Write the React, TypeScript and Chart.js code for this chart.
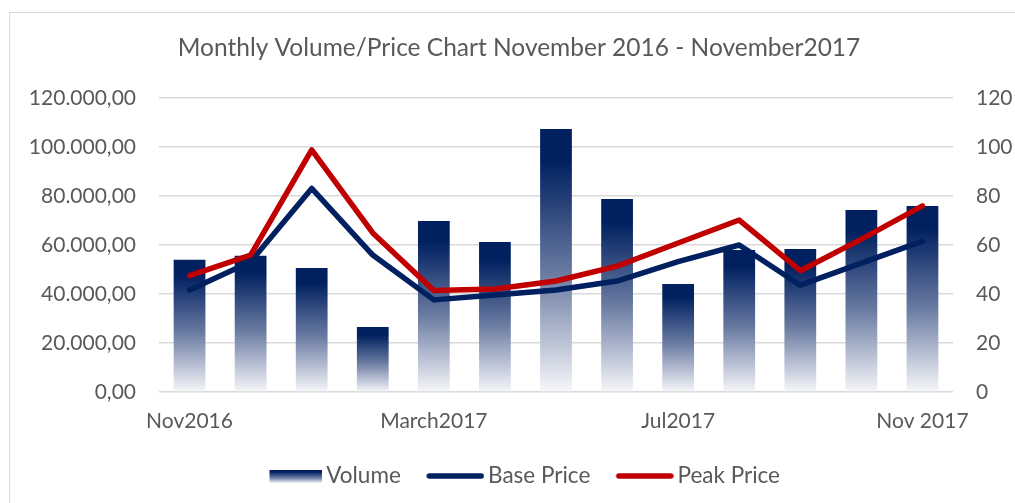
import React, { useEffect, useRef } from 'react';
import { Chart, registerables } from 'chart.js';

Chart.register(...registerables);

const categories = ['Nov2016', 'Dec2016', 'Jan2017', 'Feb2017', 'March2017', 'Apr2017', 'May2017', 'Jun2017', 'Jul2017', 'Aug2017', 'Sep2017', 'Oct2017', 'Nov 2017'];
const volume = [54000, 55600, 50600, 26500, 69800, 61200, 107300, 78800, 44100, 58000, 58400, 74300, 75900];
const basePrice = [41.6, 53.2, 83.1, 55.9, 37.6, 39.6, 41.6, 45.3, 53.2, 60.0, 43.6, 52.6, 61.6];
const peakPrice = [47.5, 55.9, 98.8, 64.9, 41.4, 42.0, 45.3, 51.4, 60.8, 70.2, 49.5, 62.4, 76.0];
const titleText = 'Monthly Volume/Price Chart November 2016 - November2017';

const FONT = 'Lato';
const TEXT = '#595959';
const NAVY = '#002060';
const RED = '#c00000';
const GRID = '#d9d9d9';

const fmtVolume = (v: number) =>
  Math.round(v).toString().replace(/\B(?=(\d{3})+(?!\d))/g, '.') + ',00';

const PW = 66; // pointStyleWidth

function makeSwatch(kind: 'bar' | 'line', color: string): HTMLCanvasElement {
  const iw = PW + 15;
  const h = 16;
  const c = document.createElement('canvas');
  c.width = iw;
  c.height = h;
  const g = c.getContext('2d')!;
  if (kind === 'bar') {
    const sw = 53;
    const x0 = iw - sw;
    const top = 2, bh = 13;
    const grad = g.createLinearGradient(0, top, 0, top + bh);
    grad.addColorStop(0, NAVY);
    grad.addColorStop(0.15, NAVY);
    grad.addColorStop(0.6, '#6a7ba2');
    grad.addColorStop(1, '#f3f5f9');
    g.fillStyle = grad;
    g.fillRect(x0, top, sw, bh);
  } else {
    const sw = 58;
    const x0 = iw - sw;
    g.strokeStyle = color;
    g.lineWidth = 5.5;
    g.lineCap = 'round';
    g.beginPath();
    g.moveTo(x0 + 3, h / 2);
    g.lineTo(iw - 3, h / 2);
    g.stroke();
  }
  return c;
}

const framePlugin = {
  id: 'frame',
  afterLayout(chart: any) {
    if (chart.titleBlock) {
      chart.titleBlock.left += 11.5;
      chart.titleBlock.right += 11.5;
    }
    if (chart.legend) {
      chart.legend.left += 7;
      chart.legend.right += 7;
    }
  },
  beforeDraw(chart: any) {
    const ctx = chart.ctx;
    ctx.save();
    ctx.fillStyle = '#ffffff';
    ctx.fillRect(0, 0, chart.width, chart.height);
    ctx.strokeStyle = GRID;
    ctx.lineWidth = 1;
    ctx.strokeRect(9.5, 12.5, chart.width + 20, chart.height + 20);
    ctx.restore();
  },
};

export default function App() {
  const ref = useRef<HTMLCanvasElement | null>(null);

  useEffect(() => {
    if (!ref.current) return;
    Chart.defaults.font.family = FONT;
    const swatches = [makeSwatch('bar', NAVY), makeSwatch('line', NAVY), makeSwatch('line', RED)];
    const tickFont = { family: FONT, size: 21 };

    const chart = new Chart(ref.current, {
      type: 'bar',
      data: {
        labels: categories,
        datasets: [
          {
            type: 'bar',
            label: 'Volume',
            data: volume,
            yAxisID: 'y',
            order: 2,
            barPercentage: 0.52,
            categoryPercentage: 1,
            backgroundColor: (ctx: any) => {
              const chart = ctx.chart;
              const ys = chart.scales && chart.scales.y;
              if (!ys || ctx.type !== 'data') return NAVY;
              const top = ys.getPixelForValue(ctx.raw);
              const bot = ys.getPixelForValue(0);
              if (!isFinite(top) || !isFinite(bot) || bot - top < 1) return NAVY;
              const g = chart.ctx.createLinearGradient(0, top, 0, bot);
              g.addColorStop(0, NAVY);
              g.addColorStop(0.12, NAVY);
              g.addColorStop(0.55, '#6a7ba2');
              g.addColorStop(1, '#f6f7fa');
              return g;
            },
          } as any,
          {
            type: 'line',
            label: 'Base Price',
            data: basePrice,
            yAxisID: 'y1',
            order: 1,
            borderColor: NAVY,
            backgroundColor: NAVY,
            borderWidth: 5.5,
            pointRadius: 0,
            tension: 0,
            borderCapStyle: 'round',
            borderJoinStyle: 'round',
          } as any,
          {
            type: 'line',
            label: 'Peak Price',
            data: peakPrice,
            yAxisID: 'y1',
            order: 0,
            borderColor: RED,
            backgroundColor: RED,
            borderWidth: 5.5,
            pointRadius: 0,
            tension: 0,
            borderCapStyle: 'round',
            borderJoinStyle: 'round',
          } as any,
        ],
      },
      options: {
        animation: false,
        responsive: false,
        devicePixelRatio: 1,
        layout: { padding: { left: 0, right: 0, top: 0, bottom: 5.75 } },
        plugins: {
          title: {
            display: true,
            text: titleText,
            color: TEXT,
            font: { family: FONT, size: 24.5, weight: 'normal' },
            padding: { top: 33.6, bottom: 35.0 },
          },
          legend: {
            position: 'bottom',
            labels: {
              usePointStyle: true,
              pointStyleWidth: PW,
              padding: 10,
              color: TEXT,
              font: { family: FONT, size: 22.5 },
              generateLabels: (ch: any) => {
                const items = (Chart.defaults.plugins.legend.labels as any).generateLabels(ch);
                items.sort((a: any, b: any) => a.datasetIndex - b.datasetIndex);
                return items.map((it: any) => ({
                  ...it,
                  pointStyle: swatches[it.datasetIndex],
                  fontColor: TEXT,
                }));
              },
            },
          },
          tooltip: { enabled: false },
        },
        scales: {
          x: {
            grid: { display: false, drawTicks: false },
            border: { display: false },
            ticks: {
              autoSkip: false,
              maxRotation: 0,
              minRotation: 0,
              color: TEXT,
              font: tickFont,
              padding: 17,
              callback: (_v: any, i: number) => (i % 4 === 0 ? categories[i] : ''),
            },
            afterFit: (s: any) => {
              s.height = 62.75;
            },
          },
          y: {
            position: 'left',
            min: 0,
            max: 120000,
            ticks: {
              stepSize: 20000,
              color: TEXT,
              font: tickFont,
              padding: 23,
              callback: (v: any) => fmtVolume(Number(v)),
            },
            grid: { color: GRID, lineWidth: 1.5, drawTicks: false },
            border: { display: false },
            afterFit: (s: any) => {
              s.width = 159;
            },
          },
          y1: {
            position: 'right',
            min: 0,
            max: 120,
            ticks: {
              stepSize: 20,
              color: TEXT,
              font: tickFont,
              padding: 23,
            },
            grid: { display: false, drawTicks: false },
            border: { display: false },
            afterFit: (s: any) => {
              s.width = 62;
            },
          },
        },
      } as any,
      plugins: [framePlugin],
    });
    return () => chart.destroy();
  }, []);

  return (
    <div style={{ position: 'absolute', left: 0, top: 0, width: 1015, height: 503 }}>
      <canvas ref={ref} width={1015} height={503} style={{ display: 'block', width: 1015, height: 503 }} />
    </div>
  );
}
